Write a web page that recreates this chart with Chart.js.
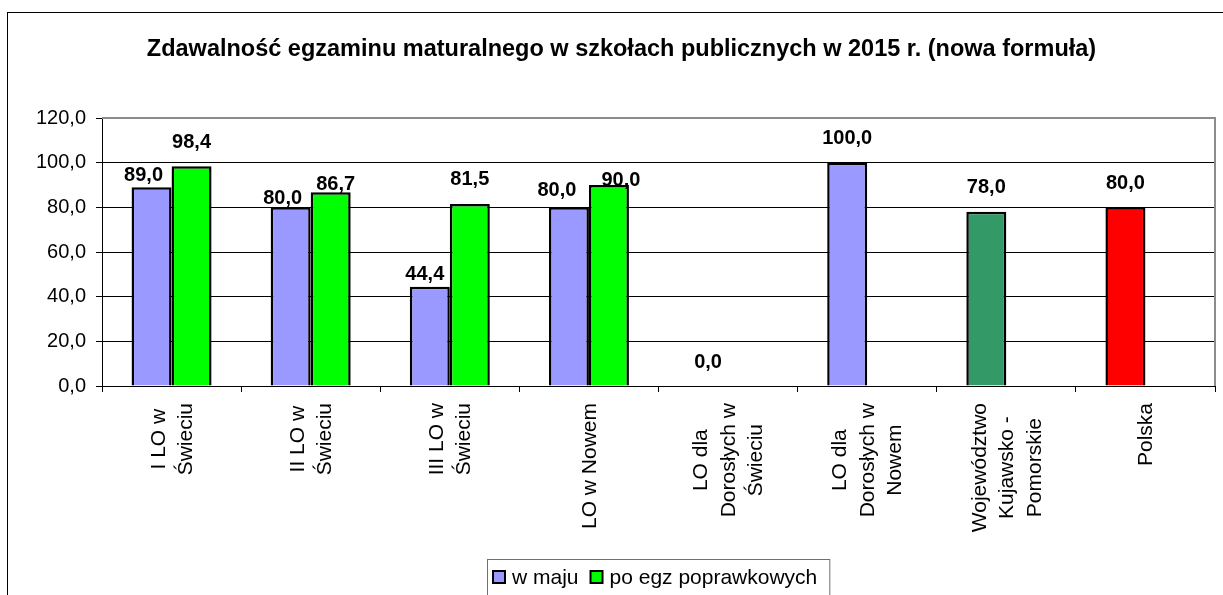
<!DOCTYPE html>
<html>
<head>
<meta charset="utf-8">
<script src="https://cdn.jsdelivr.net/npm/chart.js@4.4.1/dist/chart.umd.min.js"></script>
<style>
  html, body { margin: 0; padding: 0; background: #ffffff; }
  canvas { display: block; }
</style>
</head>
<body>
<canvas id="c" width="1223" height="595"></canvas>
<script>
const chartTitle = 'Zdawalność egzaminu maturalnego w szkołach publicznych w 2015 r. (nowa formuła)';
const categories = [
  ['I LO w', 'Świeciu'],
  ['II LO w', 'Świeciu'],
  ['III LO w', 'Świeciu'],
  ['LO w Nowem'],
  ['LO dla', 'Dorosłych w', 'Świeciu'],
  ['LO dla', 'Dorosłych w', 'Nowem'],
  ['Województwo', 'Kujawsko -', 'Pomorskie'],
  ['Polska']
];
const seriesNames = ['w maju', 'po egz poprawkowych'];
const wMaju = [89.0, 80.0, 44.4, 80.0, 0.0, 100.0, 78.0, 80.0];
const poPoprawkach = [98.4, 86.7, 81.5, 90.0, null, null, null, null];
const yTicks = [0, 20, 40, 60, 80, 100, 120];

const FONT = "'Liberation Sans', Arial, sans-serif";
const fmt = v => v.toFixed(1).replace('.', ',');

const blueCol = '#9999FF';
const greenCol = '#00FF00';
const pointColors = ['#9999FF', '#9999FF', '#9999FF', '#9999FF', '#9999FF', '#9999FF', '#339966', '#FF0000'];

// manual label nudges (dx, dy) as in the original chart
const labelNudge = [
  [[-8, 12], [0, 0]],
  [[-8, 15], [5, 16]],
  [[-5, 12], [0, 0]],
  [[-12, 7], [12, 19]],
  [[0, 0], [0, 0]],
  [[0, 0], [0, 0]],
  [[0, 0], [0, 0]],
  [[0, 0], [0, 0]]
];

const framePlugin = {
  id: 'frame',
  beforeDraw(chart) {
    const ctx = chart.ctx;
    ctx.save();
    ctx.fillStyle = '#ffffff';
    ctx.fillRect(0, 0, chart.width, chart.height);
    ctx.strokeStyle = '#000000';
    ctx.lineWidth = 1;
    ctx.strokeRect(7.5, 12.5, chart.width + 20, chart.height + 20);
    ctx.restore();
  },
  afterDatasetsDraw(chart) {
    const ctx = chart.ctx;
    const a = chart.chartArea;
    ctx.save();
    ctx.strokeStyle = '#8c8c8c';
    ctx.lineWidth = 2;
    ctx.beginPath();
    ctx.moveTo(a.left, a.top);
    ctx.lineTo(a.right, a.top);
    ctx.lineTo(a.right, a.bottom);
    ctx.stroke();
    ctx.restore();

    // value labels
    ctx.save();
    ctx.font = 'bold 20px ' + FONT;
    ctx.fillStyle = '#000000';
    ctx.textAlign = 'center';
    ctx.textBaseline = 'middle';
    chart.data.datasets.forEach((ds, di) => {
      const meta = chart.getDatasetMeta(di);
      meta.data.forEach((bar, i) => {
        const v = ds.data[i];
        if (v === null || v === undefined) return;
        const n = labelNudge[i][di];
        ctx.fillText(fmt(v), bar.x + n[0], bar.y - 24 + n[1]);
      });
    });
    ctx.restore();
  },
  afterDraw(chart) {
    const ctx = chart.ctx;
    const xs = chart.scales.x;
    // category labels, rotated, lines centred on each other
    ctx.save();
    ctx.font = '21px ' + FONT;
    ctx.fillStyle = '#000000';
    ctx.textAlign = 'center';
    ctx.textBaseline = 'middle';
    const lineH = 27.5;
    categories.forEach((lines, i) => {
      const x = xs.getPixelForTick(i);
      let maxW = 0;
      lines.forEach(l => { maxW = Math.max(maxW, ctx.measureText(l).width); });
      const cy = xs.top + 17 + maxW / 2;
      lines.forEach((l, j) => {
        const cx = x + (j - (lines.length - 1) / 2) * lineH;
        ctx.save();
        ctx.translate(cx, cy);
        ctx.rotate(-Math.PI / 2);
        ctx.fillText(l, 0, 1);
        ctx.restore();
      });
    });
    ctx.restore();

    // legend with frame
    const a = chart.chartArea;
    ctx.save();
    ctx.font = '21px ' + FONT;
    ctx.textBaseline = 'middle';
    ctx.textAlign = 'left';
    const box = 12, gapBox = 7, gapItem = 12, padL = 6, padR = 12;
    const legendCols = [blueCol, greenCol];
    const widths = seriesNames.map(s => ctx.measureText(s).width);
    let total = padL + padR;
    widths.forEach((w, k) => { total += box + gapBox + w + (k < widths.length - 1 ? gapItem : 0); });
    const lx = Math.round((a.left + a.right) / 2 - total / 2);
    const ly = 559;
    ctx.strokeStyle = '#707070';
    ctx.lineWidth = 1;
    ctx.strokeRect(lx + 0.5, ly + 0.5, total, 60);
    let cx = lx + padL;
    const cyL = 578;
    seriesNames.forEach((s, k) => {
      ctx.fillStyle = legendCols[k];
      ctx.fillRect(cx, cyL - box / 2 - 1, box, box);
      ctx.strokeStyle = '#000000';
      ctx.lineWidth = 2;
      ctx.strokeRect(cx, cyL - box / 2 - 1, box, box);
      ctx.fillStyle = '#000000';
      ctx.fillText(s, cx + box + gapBox, cyL);
      cx += box + gapBox + widths[k] + gapItem;
    });
    ctx.restore();
  }
};

new Chart(document.getElementById('c'), {
  type: 'bar',
  data: {
    labels: categories,
    datasets: [
      {
        label: seriesNames[0],
        data: wMaju,
        backgroundColor: pointColors,
        borderColor: '#000000',
        borderWidth: 2.5
      },
      {
        label: seriesNames[1],
        data: poPoprawkach,
        backgroundColor: greenCol,
        borderColor: '#000000',
        borderWidth: 2.5
      }
    ]
  },
  options: {
    responsive: false,
    animation: false,
    devicePixelRatio: 1,
    layout: { padding: { left: 28, right: 8, top: 0, bottom: 0 } },
    datasets: { bar: { categoryPercentage: 0.575, barPercentage: 1.0 } },
    plugins: {
      legend: { display: false },
      tooltip: { enabled: false },
      title: {
        display: true,
        text: chartTitle,
        color: '#000000',
        font: { family: FONT, size: 23.5, weight: 'bold', lineHeight: 1.2 },
        padding: { top: 35, bottom: 54.8 }
      }
    },
    scales: {
      x: {
        type: 'category',
        offset: true,
        grid: { display: true, drawOnChartArea: false, drawTicks: true, tickLength: 6, color: '#000000', offset: true },
        border: { display: true, color: '#000000', width: 1 },
        ticks: { display: false },
        afterFit(scale) { scale.height = 209; }
      },
      y: {
        min: 0,
        max: 120,
        afterBuildTicks(scale) { scale.ticks = yTicks.map(v => ({ value: v })); },
        grid: { color: '#000000', lineWidth: 1, drawTicks: true, tickLength: 6 },
        border: { display: true, color: '#000000', width: 1 },
        ticks: {
          color: '#000000',
          padding: 10,
          font: { family: FONT, size: 20 },
          callback: v => fmt(v)
        },
        afterFit(scale) { scale.width = 74; }
      }
    }
  },
  plugins: [framePlugin]
});
</script>
</body>
</html>
